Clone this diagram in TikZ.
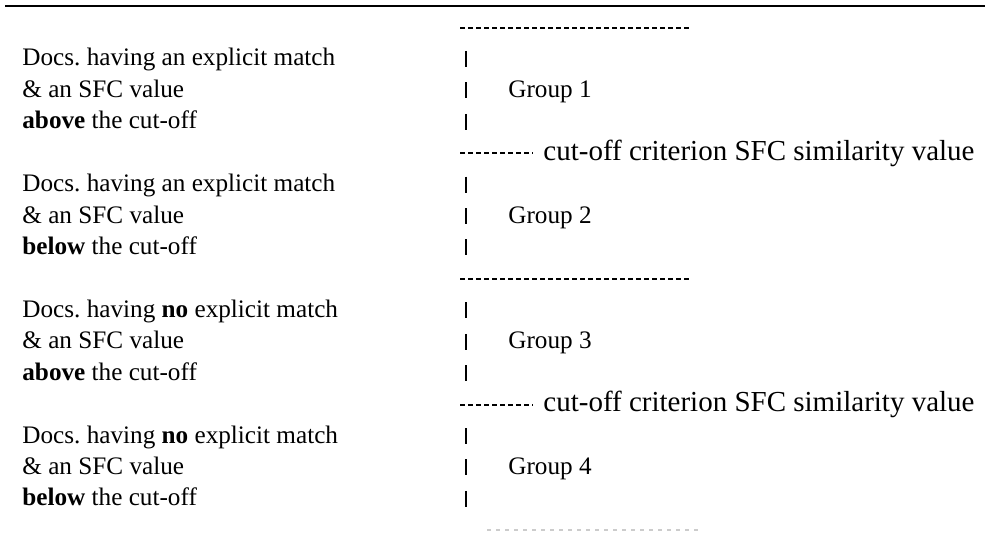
\documentclass[tikz,border=0pt]{standalone}
\usepackage{fontspec}
\setmainfont{Liberation Serif}
\usetikzlibrary{positioning}
\frenchspacing

\begin{document}
\begin{tikzpicture}[x=0.5pt, y=-0.5pt,
    doc/.style={anchor=base west, inner sep=0pt, font=\fontsize{12.6}{15}\selectfont},
    crit/.style={anchor=base west, inner sep=0pt, font=\fontsize{14.5}{17}\selectfont},
    sep/.style={line width=1pt, dash pattern=on 2.5pt off 1.5pt},
    bar/.style={line width=1.2pt}]
    \useasboundingbox (0,0) rectangle (985,533);
    \draw[line width=1.2pt] (5,6) -- (985,6);

    % four groups of three lines
    \foreach \b/\match/\side in {0/an/above, 1/an/below, 2/\textbf{no}/above, 3/\textbf{no}/below} {
        \node[doc] (doc\b1) at (22, 66+125.7*\b) {Docs. having \match\ explicit match};
        \node[doc] (doc\b2) at (22, 97.4+125.7*\b) {\& an SFC value};
        \node[doc] (doc\b3) at (22, 128.8+125.7*\b) {\textbf{\side} the cut-off};
        \foreach \k in {0,1,2}
            \draw[bar] (466, 51+125.7*\b+31.4*\k) -- (466, 67+125.7*\b+31.4*\k);
        \node[doc] (grp\b) at (508, 97.4+125.7*\b) {Group \the\numexpr\b+1\relax};
    }

    % separators
    \foreach \y in {27.6, 279}
        \draw[sep] (460,\y) -- (692,\y);
    \draw[line width=0.8pt, gray!40, dash pattern=on 2pt off 2.5pt] (487,530) -- (700,530);
    \foreach \b in {0,2} {
        \node[crit] (crit\b) at (543, 160.3+125.7*\b) {cut-off criterion SFC similarity value};
        \coordinate (cut\b) at (460, 153.3+125.7*\b);
        \draw[sep] (cut\b) -- ([xshift=-5pt]cut\b -| crit\b.west);
    }
\end{tikzpicture}
\end{document}
